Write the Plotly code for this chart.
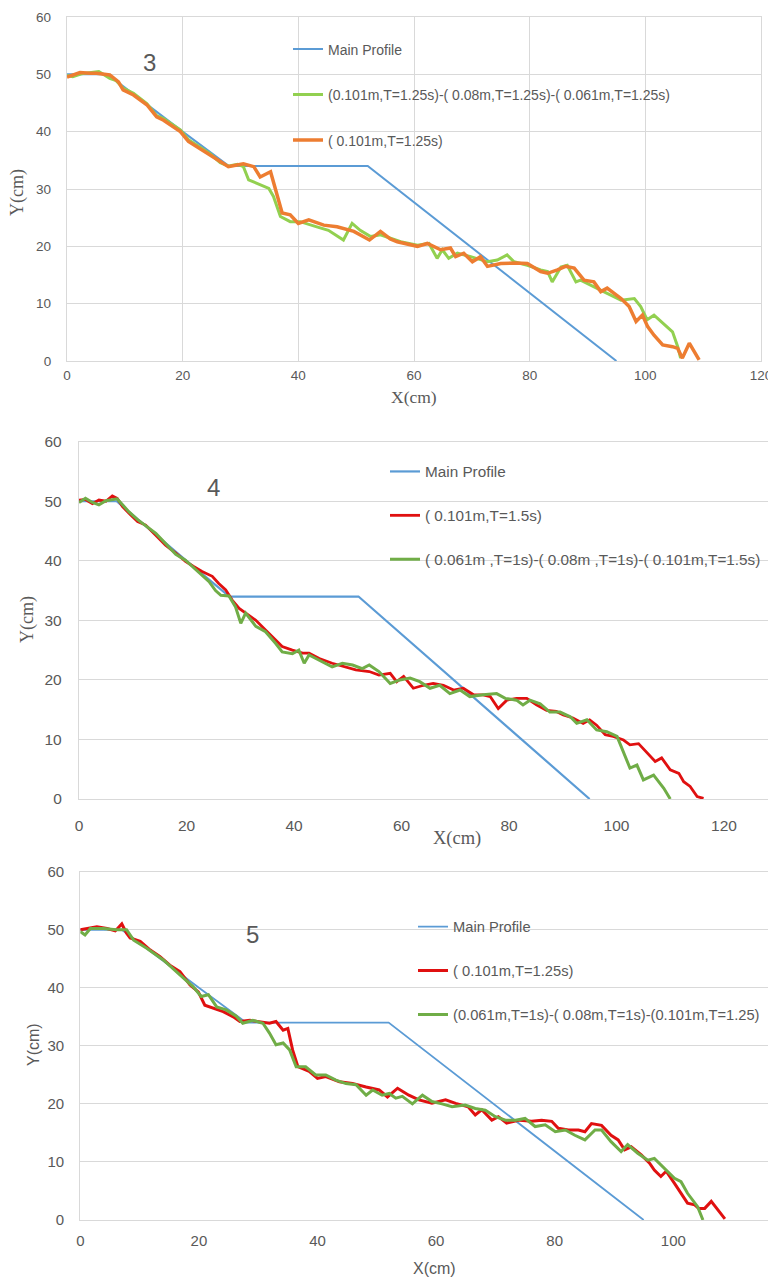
import plotly.graph_objects as go

# page body has an 8px margin: the figure is sized to sit inside it
OFF = 8
W, H = 776 - OFF, 1279 - OFF

# ---------------- data ----------------
main_x = [0, 7, 20, 28, 52, 95]
main_y = [50, 50, 40, 34, 34, 0]

# Panel 3 (top)
p3_orange_x = [0, 1, 2.25, 4, 5.1, 7.4, 8.9, 9.7, 11.5, 13.8, 15.5, 16.7, 17.8, 19.6, 21, 23, 24.8, 26.5, 27.9, 29.4,
               30.5, 32.3, 33.4, 35.2, 36.3, 37.2, 38.6, 40, 41.8, 44.4, 46.7, 49.6, 52.3, 54.2, 55.9, 57.1, 60.6, 62.3,
               64.6, 66.3, 67.2, 68.6, 70.1, 71.5, 72.7, 75, 77.5, 79.6, 81.9, 83.1, 84.8, 86.2, 87.7, 89.4, 91.1, 92.3,
               93.4, 95.8, 97.2, 98.4, 99.5, 100.4, 101.5, 103, 104.7, 105.6, 106.4, 107.6, 109.3]
p3_orange_y = [49.5, 49.8, 50.3, 50.2, 50.2, 49.9, 48.7, 47.3, 46.4, 44.7, 42.6, 42, 41.2, 40, 38.3, 37.1, 35.9, 34.8, 33.9, 34.2,
               34.4, 33.9, 32.1, 33, 29.3, 25.8, 25.5, 24, 24.6, 23.7, 23.4, 22.6, 21.1, 22.6, 21.3, 20.8, 20, 20.5,
               19.4, 19.7, 18.2, 18.8, 17.3, 18.2, 16.5, 17, 17.1, 17, 15.6, 15.3, 15.9, 16.5, 16.2, 14.1, 13.8, 12.1,
               12.7, 10.9, 9.5, 6.9, 8, 6, 4.5, 2.8, 2.5, 2.2, 0.5, 3.1, 0.2]
p3_green_x = [0, 1, 2.5, 4, 5.5, 7.4, 8.5, 9.7, 11.5, 13.8, 15.5, 16.7, 17.8, 19.6, 21, 23, 24.8, 26.5, 28, 29.5,
              30.5, 31.4, 33.4, 34.9, 35.7, 36.9, 38.6, 40.3, 43.2, 45.2, 47.8, 49.3, 50.7, 52.5, 54.2, 57.7, 60.6, 62.6,
              64, 64.9, 66, 67.5, 69.8, 72.7, 74.4, 76.1, 77.3, 79.6, 81.9, 83.1, 83.9, 85.4, 86.5, 88, 88.8, 91.1,
              93.4, 95.8, 98.1, 99.2, 100.3, 101.5, 103.3, 104.7, 105.6, 106.1]
p3_green_y = [49.8, 49.6, 50.1, 50.3, 50.5, 49.3, 48.9, 47.6, 46.7, 44.9, 42.8, 42.3, 41.5, 40.3, 38.6, 37.3, 36.1, 34.6, 34, 34.3,
              33.9, 31.6, 30.7, 30.1, 28.7, 25.2, 24.3, 24.3, 23.4, 22.8, 21.1, 24, 22.8, 21.7, 22, 20.8, 20.2, 20.5,
              17.9, 19.4, 17.9, 18.8, 18.2, 17.3, 17.6, 18.5, 17.3, 16.7, 15.9, 15.6, 13.8, 16.4, 16.7, 13.8, 14.1, 13,
              11.8, 10.6, 10.9, 9.5, 7.2, 8, 6.3, 5.1, 2.5, 0.5]

# Panel 4 (middle)
p4_red_x = [0, 1.2, 2.5, 3.7, 5, 6.2, 7.1, 8.1, 9.3, 10.9, 12.4, 14.3, 16.1, 18, 19.8, 21.4, 22.9, 24.8, 26, 27.3,
            28.5, 29.8, 31.6, 32.9, 34.7, 36.6, 37.8, 39.7, 41.6, 42.8, 44.7, 47.1, 49.6, 51.5, 54, 55.8, 57.9, 59.1,
            60.4, 62.2, 64.1, 65.9, 67.8, 69.7, 71.5, 73.4, 75.2, 76.5, 78, 79.6, 81.4, 83.3, 85.1, 87, 88.8, 90.1,
            91.9, 93.8, 95, 96.3, 97.9, 99.4, 101.3, 102.5, 104.1, 105.6, 107.2, 108.4, 110, 111.6, 112.5, 113.7,
            115, 116.2]
p4_red_y = [50.2, 50.3, 49.6, 50.2, 50, 50.9, 50.5, 49.1, 48, 46.6, 46, 44.3, 42.6, 41.3, 39.9, 39, 38.2, 37.4, 36.2, 35.1,
            33.4, 32, 30.9, 30, 28.4, 26.7, 25.6, 25, 24.5, 24.5, 23.6, 22.8, 22.2, 21.7, 21.4, 20.8, 21.1, 19.7,
            20.6, 18.6, 19.1, 19.4, 19.1, 18.3, 18.6, 17.5, 17.5, 17.2, 15.2, 16.6, 16.9, 16.9, 15.8, 14.9, 14.7, 14.1,
            13.6, 12.7, 13.3, 12.4, 10.8, 10.5, 9.9, 9.1, 9.3, 7.9, 6.3, 6.9, 4.9, 4.3, 2.9, 2.1,
            0.4, 0.1]
p4_green_x = [0, 1.2, 2.5, 3.7, 5, 6.2, 7.1, 8.1, 9.3, 10.9, 12.4, 14.3, 16.1, 18, 19.8, 21.4, 22.9, 24.2, 25.4, 26.4,
              27.9, 29.1, 30.1, 31, 32.9, 34.7, 36.6, 37.8, 39.7, 40.9, 41.9, 42.8, 44.7, 47.1, 49, 50.9, 52.7, 54,
              55.8, 56.7, 57.9, 59.7, 61.6, 63.4, 65.3, 67.1, 69, 70.9, 72.7, 75.2, 77.7, 79.3, 81.4, 82.6, 83.9, 85.8,
              87.6, 89.5, 91.4, 92.6, 94.5, 96.3, 98.2, 100.1, 101.3, 102.5, 103.8, 105, 106.9, 108.8, 110]
p4_green_y = [49.8, 50.5, 49.8, 49.4, 50.1, 50.2, 50.4, 49.4, 48.2, 46.9, 45.9, 44.6, 42.9, 41.1, 40.1, 38.8, 37.6, 36.5, 35, 34.2,
              34.1, 32.3, 29.5, 31.2, 29, 28.1, 26.1, 24.7, 24.4, 25, 22.8, 24.2, 23.3, 22.2, 22.8, 22.5, 21.9, 22.5,
              21.4, 20.6, 19.4, 20, 20.3, 19.7, 18.6, 19.1, 17.7, 18.3, 17.2, 17.5, 17.7, 16.9, 16.6, 15.8, 16.6, 16,
              14.6, 14.6, 13.8, 12.7, 13.3, 11.6, 11.3, 10.5, 7.7, 5.2, 5.7, 3.2, 4, 1.8, 0]

# Panel 5 (bottom)
p5_red_x = [0, 1.1, 2.8, 4.5, 5.9, 7, 7.8, 8.4, 10.1, 11.8, 13.4, 15.1, 16.8, 18.5, 19.9, 21, 22.4, 24.1, 25.8, 26.9,
            28.6, 30.2, 31.9, 33, 34.2, 35, 35.8, 36.7, 38.6, 40, 41.4, 43.7, 45.9, 48.2, 50.4, 51.8, 53.5, 55.4,
            57.1, 59.3, 61.6, 63.3, 65.4, 66.6, 67.7, 69.4, 70.5, 71.9, 74.1, 76.1, 77.8, 79.5, 80.6, 82.3, 84, 85.1,
            86.2, 87.9, 89.5, 90.7, 91.8, 92.9, 94.6, 96, 96.8, 97.9, 98.8, 100.2, 101.3, 102.4, 103.6, 104.3,
            105.3, 106.4, 108.7]
p5_red_y = [50, 50.2, 50.5, 50.2, 49.8, 51, 49.4, 48.6, 48, 46.5, 45.4, 43.9, 42.8, 40.5, 39.3, 37, 36.5, 35.9, 35, 34.2,
            34.4, 34.2, 33.9, 34.2, 32.7, 33, 29.3, 26.4, 25.6, 24.4, 24.7, 23.8, 23.5, 22.9, 22.4, 21.2, 22.7, 21.5,
            20.7, 20.1, 20.7, 20.1, 19.5, 18.1, 19, 17.2, 17.8, 16.7, 17.2, 17, 17.2, 17, 15.8, 15.5, 15.5, 15.2,
            16.6, 16.3, 14.6, 13.8, 12.1, 12.6, 11.2, 9.8, 8.6, 7.5, 8.4, 6.3, 4.6, 2.9, 2.6, 2.0,
            2.0, 3.2, 0.2]
p5_green_x = [0, 0.8, 1.7, 3.9, 6.1, 7.8, 9, 11.2, 14, 16.8, 19, 20.4, 21.6, 23, 24.6, 26.3, 27.4, 29.1, 30.8, 31.9,
              33, 34.2, 35.3, 36.4, 38, 39.7, 41.4, 43.1, 44.8, 46.5, 48.2, 49.3, 50.9, 52.1, 53.2, 54.3, 56, 57.7,
              59.3, 61, 62.7, 64.9, 66.6, 68.3, 70, 71.7, 73.4, 75, 76.7, 78.4, 80.1, 81.8, 83.4, 85.1, 86.8, 87.9,
              89.5, 91.2, 92.3, 94, 95.7, 96.8, 98.5, 100.2, 101.3, 102.4, 104.1, 105]
p5_green_y = [49.7, 49.1, 50.2, 50.2, 50, 50, 48.2, 46.8, 44.8, 42.2, 40.2, 38.5, 38.8, 36.7, 36.2, 35.1, 33.9, 34.4, 33.9, 32.2,
              30.2, 30.5, 29.3, 26.4, 26.4, 25, 25, 24.1, 23.5, 23.3, 21.5, 22.4, 21.5, 21.8, 21, 21.3, 20, 21.5,
              20.4, 20, 19.5, 19.8, 19.2, 18.9, 17.8, 17.2, 17.2, 17.5, 16.1, 16.4, 15.2, 15.5, 14.6, 13.8, 15.5, 15.5,
              13.5, 11.8, 13, 11.5, 10.3, 10.6, 8.9, 7.2, 6.6, 4.6, 2.3, 0]

for a, b in [(p3_orange_x, p3_orange_y), (p3_green_x, p3_green_y), (p4_red_x, p4_red_y),
             (p4_green_x, p4_green_y), (p5_red_x, p5_red_y), (p5_green_x, p5_green_y)]:
    assert len(a) == len(b), (len(a), len(b))

x_ticks = [0, 20, 40, 60, 80, 100, 120]
y_ticks = [0, 10, 20, 30, 40, 50, 60]

names_p3 = ["Main Profile", "(0.101m,T=1.25s)-( 0.08m,T=1.25s)-( 0.061m,T=1.25s)", "( 0.101m,T=1.25s)"]
names_p4 = ["Main Profile", "( 0.101m,T=1.5s)", "( 0.061m ,T=1s)-( 0.08m ,T=1s)-( 0.101m,T=1.5s)"]
names_p5 = ["Main Profile", "( 0.101m,T=1.25s)", "(0.061m,T=1s)-( 0.08m,T=1s)-(0.101m,T=1.25)"]

# ---------------- styles ----------------
BLUE = "#5B9BD5"
LGREEN = "#92D050"
ORANGE = "#ED7D31"
RED = "#E01010"
GREEN = "#70AD47"
GRID = "#D9D9D9"
TXT = "#595959"
SANS = "Liberation Sans"
SERIF = "Liberation Serif"


def px(x):
    return (x - OFF) / W


def py(y):
    return 1 - (y - OFF) / H


fig = go.Figure()


def add(xs, ys, name, color, width, xa, ya, leg, grp):
    fig.add_trace(go.Scatter(x=xs, y=ys, mode="lines", name=name,
                             line=dict(color=color, width=width),
                             xaxis=xa, yaxis=ya, legend=leg, legendgroup=grp,
                             hoverinfo="skip"))


# panel 3
add(main_x, main_y, names_p3[0], BLUE, 2, "x", "y", "legend", "a1")
add(p3_green_x, p3_green_y, names_p3[1], LGREEN, 3, "x", "y", "legend", "a2")
add(p3_orange_x, p3_orange_y, names_p3[2], ORANGE, 3.5, "x", "y", "legend", "a3")
# panel 4
add(main_x, main_y, names_p4[0], BLUE, 2.2, "x2", "y2", "legend2", "b1")
add(p4_red_x, p4_red_y, names_p4[1], RED, 2.8, "x2", "y2", "legend2", "b2")
add(p4_green_x, p4_green_y, names_p4[2], GREEN, 3, "x2", "y2", "legend2", "b3")
# panel 5
add(main_x, main_y, names_p5[0], BLUE, 1.8, "x3", "y3", "legend3", "c1")
add(p5_red_x, p5_red_y, names_p5[1], RED, 3, "x3", "y3", "legend3", "c2")
add(p5_green_x, p5_green_y, names_p5[2], GREEN, 3, "x3", "y3", "legend3", "c3")

# plot area pixel boxes in screen pixels (left, right, top, bottom) and x ranges
boxes = {
    "1": dict(l=67, r=761, t=17, b=361, xr=[0, 120], fs=13.5, vgrid=True, xstand=2, ystand=12),
    "2": dict(l=79, r=776, t=441.7, b=799, xr=[0, (776 - 79) / 5.375], fs=15.5, vgrid=False, xstand=12, ystand=13),
    "3": dict(l=80.3, r=776, t=871.7, b=1220, xr=[0, (776 - 80.3) / 5.93], fs=15, vgrid=False, xstand=7, ystand=12),
}
layout_axes = {}
for k, bx in boxes.items():
    sfx = "" if k == "1" else k
    xt = [t for t in x_ticks if t <= bx["xr"][1] + 1e-6]
    layout_axes["xaxis" + sfx] = dict(
        domain=[px(bx["l"]), min(1.0, px(bx["r"]))], range=bx["xr"], anchor="y" + sfx,
        tickvals=xt, ticktext=[str(t) for t in xt], automargin=False,
        showgrid=bx["vgrid"], gridcolor=GRID, gridwidth=1, zeroline=False,
        showline=True, linecolor=GRID, linewidth=1.3, mirror=True,
        ticks="", tickfont=dict(family=SANS, size=bx["fs"], color=TXT),
        ticklabelstandoff=bx["xstand"], fixedrange=True)
    layout_axes["yaxis" + sfx] = dict(
        domain=[py(bx["b"]), py(bx["t"])], range=[0, 60], anchor="x" + sfx,
        tickvals=y_ticks, ticktext=[str(t) for t in y_ticks], automargin=False,
        showgrid=True, gridcolor=GRID, gridwidth=1, zeroline=False,
        showline=True, linecolor=GRID, linewidth=1.3, mirror=(k == "1"),
        ticks="", tickfont=dict(family=SANS, size=bx["fs"], color=TXT),
        ticklabelstandoff=bx["ystand"], fixedrange=True)

ann = []


def text(x, y, s, size, family=SANS, color=TXT, angle=0):
    ann.append(dict(x=px(x), y=py(y), xref="paper", yref="paper", text=s, showarrow=False,
                    xanchor="center", yanchor="middle", textangle=angle,
                    font=dict(family=family, size=size, color=color)))


text(149, 63, "3", 24)
text(213, 487, "4", 24)
text(252, 934, "5", 24)
text(18, 193, "Y(cm)", 18, SERIF, TXT, -90)
text(414, 397, "X(cm)", 17.5, SERIF, TXT)
text(28, 620, "Y(cm)", 18, SERIF, TXT, -90)
text(457, 838, "X(cm)", 18.5, SERIF, TXT)
text(33, 1045, "Y(cm)", 16, SANS, TXT, -90)
text(434, 1268, "X(cm)", 16, SANS, TXT)


def legend(x, ytop, size, gap):
    return dict(x=px(x), y=py(ytop), xref="paper", yref="paper", xanchor="left", yanchor="top",
                bgcolor="rgba(0,0,0,0)", borderwidth=0, traceorder="grouped", tracegroupgap=gap,
                font=dict(family=SANS, size=size, color=TXT), itemwidth=30)


fig.update_layout(
    width=W, height=H, margin=dict(l=0, r=0, t=0, b=0, autoexpand=False),
    paper_bgcolor="white", plot_bgcolor="white",
    showlegend=True,
    legend=legend(288, 33.5, 14, 24.3),
    legend2=legend(385, 455, 15.3, 21),
    legend3=legend(413, 910.5, 14.7, 21.8),
    annotations=ann,
    **layout_axes,
)

fig.write_html("out.html")
